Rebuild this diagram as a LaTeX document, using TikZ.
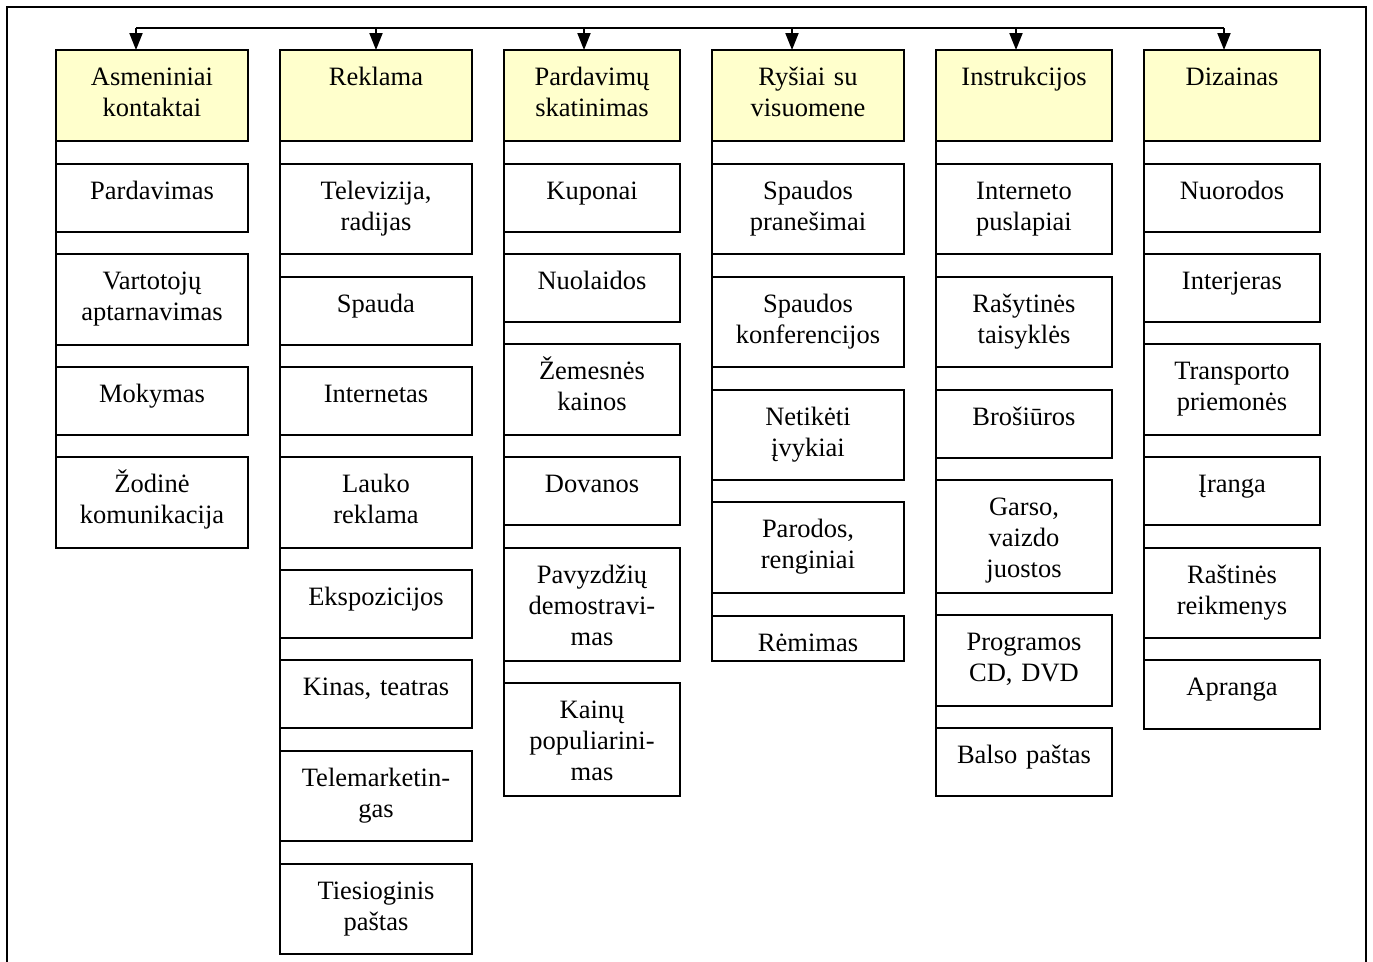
\documentclass[tikz,border=0pt]{standalone}
\usepackage{fontspec}
\setmainfont{Liberation Serif}
\usetikzlibrary{calc,arrows.meta}

\definecolor{headfill}{HTML}{FFFFCC}

\tikzset{
  cellbox/.style={draw=black, line width=2pt, fill=white, inner sep=0pt, outer sep=0pt},
  headbox/.style={cellbox, fill=headfill},
  txt/.style={anchor=base, align=center, inner sep=0pt,
    font=\fontsize{26.5}{31}\selectfont\frenchspacing},
  link/.style={draw=black, line width=2pt},
  arr/.style={link, -{Triangle[width=13pt,length=17pt]}},
  frame/.style={draw=black, line width=2.5pt},
}

% #1 style, #2 name, #3 left, #4 top, #5 right, #6 bottom, #7 text
\newcommand\mkbox[7]{%
  \node[#1, anchor=north west, minimum width={#5-#3}, minimum height={#6-#4}] (#2) at (#3,#4) {};
  \node[txt, text width={#5-#3-4}] (#2-t) at ($(#2.north)+(0,35.5)$) {#7};
}

\begin{document}
\begin{tikzpicture}[x=1pt,y=-1pt]
  \useasboundingbox (0,0) rectangle (1373,961);
  \clip (0,0) rectangle (1373,961);
  \fill[white] (0,0) rectangle (1373,961);

  % outer frame (continues below the page edge)
  \draw[frame] (7,7) rectangle (1366,990);

  % column 1
  \mkbox{headbox}{h1}{56}{50}{248}{141}{Asmeniniai\\kontaktai}
  \mkbox{cellbox}{a1}{56}{164}{248}{232}{Pardavimas}
  \mkbox{cellbox}{a2}{56}{254}{248}{345}{Vartotojų\\aptarnavimas}
  \mkbox{cellbox}{a3}{56}{367}{248}{435}{Mokymas}
  \mkbox{cellbox}{a4}{56}{457}{248}{548}{Žodinė\\komunikacija}

  % column 2
  \mkbox{headbox}{h2}{280}{50}{472}{141}{Reklama}
  \mkbox{cellbox}{b1}{280}{164}{472}{254}{Televizija,\\radijas}
  \mkbox{cellbox}{b2}{280}{277}{472}{345}{Spauda}
  \mkbox{cellbox}{b3}{280}{367}{472}{435}{Internetas}
  \mkbox{cellbox}{b4}{280}{457}{472}{548}{Lauko\\reklama}
  \mkbox{cellbox}{b5}{280}{570}{472}{638}{Ekspozicijos}
  \mkbox{cellbox}{b6}{280}{660}{472}{728}{Kinas, teatras}
  \mkbox{cellbox}{b7}{280}{751}{472}{841}{Telemarketin-\\gas}
  \mkbox{cellbox}{b8}{280}{864}{472}{954}{Tiesioginis\\paštas}

  % column 3
  \mkbox{headbox}{h3}{504}{50}{680}{141}{Pardavimų\\skatinimas}
  \mkbox{cellbox}{c1}{504}{164}{680}{232}{Kuponai}
  \mkbox{cellbox}{c2}{504}{254}{680}{322}{Nuolaidos}
  \mkbox{cellbox}{c3}{504}{344}{680}{435}{Žemesnės\\kainos}
  \mkbox{cellbox}{c4}{504}{457}{680}{525}{Dovanos}
  \mkbox{cellbox}{c5}{504}{548}{680}{661}{Pavyzdžių\\demostravi-\\mas}
  \mkbox{cellbox}{c6}{504}{683}{680}{796}{Kainų\\populiarini-\\mas}

  % column 4
  \mkbox{headbox}{h4}{712}{50}{904}{141}{Ryšiai su\\visuomene}
  \mkbox{cellbox}{d1}{712}{164}{904}{254}{Spaudos\\pranešimai}
  \mkbox{cellbox}{d2}{712}{277}{904}{367}{Spaudos\\konferencijos}
  \mkbox{cellbox}{d3}{712}{390}{904}{480}{Netikėti\\įvykiai}
  \mkbox{cellbox}{d4}{712}{502}{904}{593}{Parodos,\\renginiai}
  \mkbox{cellbox}{d5}{712}{616}{904}{661}{Rėmimas}

  % column 5
  \mkbox{headbox}{h5}{936}{50}{1112}{141}{Instrukcijos}
  \mkbox{cellbox}{e1}{936}{164}{1112}{254}{Interneto\\puslapiai}
  \mkbox{cellbox}{e2}{936}{277}{1112}{367}{Rašytinės\\taisyklės}
  \mkbox{cellbox}{e3}{936}{390}{1112}{458}{Brošiūros}
  \mkbox{cellbox}{e4}{936}{480}{1112}{593}{Garso,\\vaizdo\\juostos}
  \mkbox{cellbox}{e5}{936}{615}{1112}{706}{Programos\\CD, DVD}
  \mkbox{cellbox}{e6}{936}{728}{1112}{796}{Balso paštas}

  % column 6
  \mkbox{headbox}{h6}{1144}{50}{1320}{141}{Dizainas}
  \mkbox{cellbox}{f1}{1144}{164}{1320}{232}{Nuorodos}
  \mkbox{cellbox}{f2}{1144}{254}{1320}{322}{Interjeras}
  \mkbox{cellbox}{f3}{1144}{344}{1320}{435}{Transporto\\priemonės}
  \mkbox{cellbox}{f4}{1144}{457}{1320}{525}{Įranga}
  \mkbox{cellbox}{f5}{1144}{548}{1320}{638}{Raštinės\\reikmenys}
  \mkbox{cellbox}{f6}{1144}{660}{1320}{729}{Apranga}

  % spine along the left edge of each column
  \draw[link] (h1.south west) -- (a4.north west);
  \draw[link] (h2.south west) -- (b8.north west);
  \draw[link] (h3.south west) -- (c6.north west);
  \draw[link] (h4.south west) -- (d5.north west);
  \draw[link] (h5.south west) -- (e6.north west);
  \draw[link] (h6.south west) -- (f6.north west);

  % distribution bus with arrows into the headers
  \coordinate (t1) at (136,28);
  \coordinate (t2) at (376,28);
  \coordinate (t3) at (584,28);
  \coordinate (t4) at (792,28);
  \coordinate (t5) at (1016,28);
  \coordinate (t6) at (1224,28);
  \draw[link] (t1) -- (t6);
  \draw[arr] (t1) -- (t1 |- h1.north);
  \draw[arr] (t2) -- (t2 |- h2.north);
  \draw[arr] (t3) -- (t3 |- h3.north);
  \draw[arr] (t4) -- (t4 |- h4.north);
  \draw[arr] (t5) -- (t5 |- h5.north);
  \draw[arr] (t6) -- (t6 |- h6.north);
\end{tikzpicture}
\end{document}
